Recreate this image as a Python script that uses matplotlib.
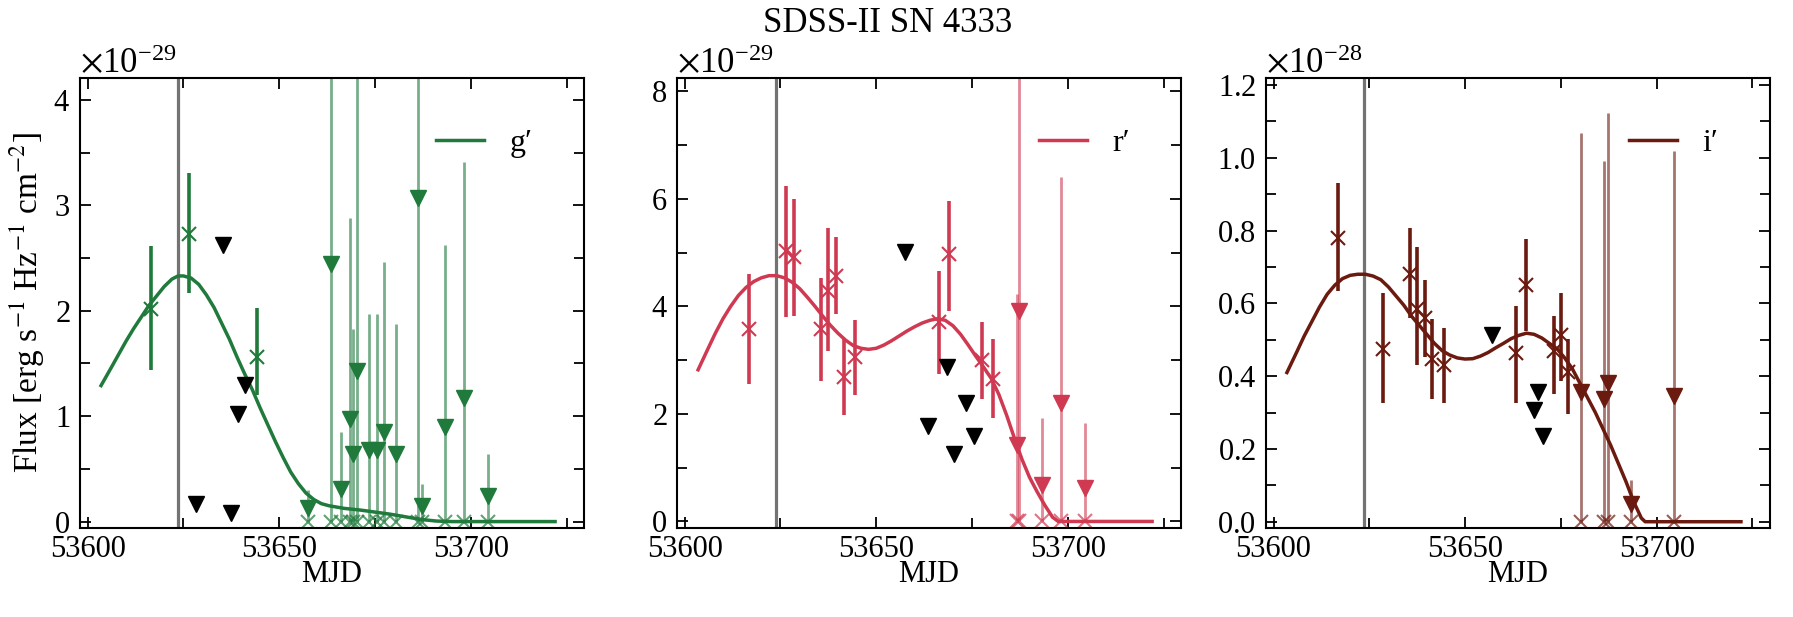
import matplotlib
matplotlib.use("Agg")
import matplotlib.pyplot as plt
import numpy as np
from matplotlib.ticker import MultipleLocator, ScalarFormatter

plt.rcParams['font.family'] = ['Liberation Serif', 'DejaVu Serif']
plt.rcParams['mathtext.fontset'] = 'stix'
plt.rcParams['font.size'] = 22

T_PEAK = 53623.7

# ---------------- g' band (units 1e-29) ----------------
g_curve_mjd = [53603.5, 53606, 53608, 53610, 53612, 53614, 53616, 53618, 53620, 53622,
               53623.6, 53625, 53627, 53629, 53631, 53633, 53635, 53637, 53639, 53641,
               53643, 53645, 53647, 53649, 53651, 53653, 53655, 53657, 53659, 53661,
               53663, 53667, 53671, 53675, 53679, 53683, 53687, 53691, 53695, 53722]
g_curve_flux = [1.29, 1.45, 1.58, 1.71, 1.83, 1.94, 2.05, 2.14, 2.23, 2.30,
                2.33, 2.33, 2.31, 2.25, 2.15, 2.03, 1.88, 1.73, 1.56, 1.40,
                1.25, 1.08, 0.92, 0.76, 0.61, 0.47, 0.36, 0.27, 0.21, 0.17,
                0.15, 0.125, 0.11, 0.09, 0.07, 0.045, 0.02, 0.005, 0.0, 0.0]
g_det_mjd = [53616.6, 53626.4, 53644.3]
g_det_flux = [2.02, 2.73, 1.56]
g_det_lo = [1.44, 2.17, 1.20]
g_det_hi = [2.61, 3.31, 2.03]
g_ul_mjd = [53657.5, 53663.6, 53666.2, 53668.4, 53669.3, 53670.4, 53673.5, 53675.4,
            53677.4, 53680.4, 53686.1, 53687.3, 53693.2, 53698.2, 53704.4]
g_ul_lim = [0.13, 2.44, 0.31, 0.97, 0.64, 1.43, 0.68, 0.68, 0.85, 0.64, 3.07, 0.15, 0.90, 1.17, 0.24]
g_ul_top = [0.30, 6.0, 0.85, 2.88, 1.83, 6.0, 1.97, 1.97, 2.46, 1.87, 6.0, 0.36, 2.62, 3.41, 0.64]
g_black_mjd = [53628.4, 53635.4, 53637.3, 53639.3, 53641.0]
g_black_flux = [0.17, 2.62, 0.08, 1.02, 1.30]

# ---------------- r' band (units 1e-29) ----------------
r_curve_mjd = [53603.5, 53606, 53608, 53610, 53612, 53614, 53616, 53618, 53620, 53622,
               53624, 53626, 53628, 53630, 53632, 53634, 53636, 53638, 53640, 53642,
               53644, 53646, 53648, 53650, 53652, 53654, 53656, 53658, 53660, 53662,
               53664, 53666, 53668, 53670, 53672, 53674, 53676, 53678, 53680, 53682,
               53684, 53686, 53688, 53690, 53692, 53694, 53696, 53697.5, 53722]
r_curve_flux = [2.82, 3.20, 3.50, 3.77, 4.00, 4.20, 4.35, 4.46, 4.53, 4.57,
                4.57, 4.53, 4.45, 4.33, 4.17, 4.00, 3.82, 3.65, 3.50, 3.37,
                3.27, 3.22, 3.20, 3.22, 3.28, 3.36, 3.45, 3.54, 3.62, 3.69,
                3.74, 3.77, 3.74, 3.64, 3.48, 3.28, 3.07, 2.87, 2.66, 2.36,
                1.98, 1.56, 1.16, 0.82, 0.55, 0.30, 0.08, 0.0, 0.0]
r_det_mjd = [53616.8, 53626.5, 53628.5, 53635.5, 53637.5, 53639.5, 53641.7, 53644.5,
             53666.5, 53669.1, 53677.6, 53680.5]
r_det_flux = [3.58, 5.03, 4.91, 3.58, 4.29, 4.57, 2.69, 3.06, 3.70, 4.97, 3.00, 2.65]
r_det_lo = [2.55, 3.80, 3.82, 2.62, 3.17, 3.85, 1.97, 2.35, 2.75, 3.91, 2.27, 1.93]
r_det_hi = [4.60, 6.24, 6.00, 4.53, 5.46, 5.29, 3.41, 3.75, 4.66, 5.95, 3.70, 3.40]
r_ul_mjd = [53686.8, 53687.3, 53693.2, 53698.2, 53704.4]
r_ul_lim = [1.42, 3.91, 0.67, 2.20, 0.63]
r_ul_top = [4.22, 10.0, 1.93, 6.40, 1.83]
r_black_mjd = [53657.5, 53663.6, 53668.4, 53670.4, 53673.5, 53675.4]
r_black_flux = [5.01, 1.77, 2.88, 1.25, 2.20, 1.59]

# ---------------- i' band (units 1e-28) ----------------
i_curve_mjd = [53603.5, 53606, 53608, 53610, 53612, 53614, 53616, 53618, 53620, 53622,
               53624, 53626, 53628, 53630, 53632, 53634, 53636, 53638, 53640, 53642,
               53644, 53646, 53648, 53650, 53652, 53654, 53656, 53658, 53660, 53662,
               53664, 53666, 53668, 53670, 53672, 53674, 53676, 53678, 53680, 53682,
               53684, 53686, 53688, 53690, 53692, 53694, 53696, 53697, 53722]
i_curve_flux = [0.41, 0.465, 0.51, 0.55, 0.59, 0.625, 0.65, 0.668, 0.677, 0.68,
                0.68, 0.675, 0.665, 0.645, 0.62, 0.595, 0.565, 0.54, 0.515, 0.49,
                0.47, 0.458, 0.45, 0.447, 0.448, 0.455, 0.465, 0.478, 0.49, 0.503,
                0.512, 0.518, 0.515, 0.505, 0.49, 0.475, 0.45, 0.42, 0.38, 0.34,
                0.30, 0.255, 0.21, 0.16, 0.11, 0.055, 0.01, 0.0, 0.0]
i_det_mjd = [53616.7, 53628.5, 53635.5, 53637.5, 53639.6, 53641.4, 53644.6,
             53663.2, 53665.9, 53673.2, 53675.0, 53676.9]
i_det_flux = [0.781, 0.475, 0.680, 0.584, 0.559, 0.447, 0.432, 0.463, 0.650, 0.468, 0.513, 0.412]
i_det_lo = [0.634, 0.326, 0.559, 0.432, 0.453, 0.336, 0.326, 0.326, 0.523, 0.352, 0.387, 0.296]
i_det_hi = [0.932, 0.629, 0.808, 0.756, 0.665, 0.556, 0.533, 0.594, 0.778, 0.566, 0.629, 0.503]
i_ul_mjd = [53680.3, 53686.3, 53687.4, 53693.4, 53704.4]
i_ul_lim = [0.357, 0.336, 0.382, 0.048, 0.346]
i_ul_top = [1.067, 0.99, 1.124, 0.114, 1.018]
i_black_mjd = [53657.0, 53668.1, 53669.1, 53670.3]
i_black_flux = [0.513, 0.306, 0.357, 0.235]

bands = [
    dict(label="g\u2032", color='#1f7a3c', scale=1e-29, ylim=(-0.06, 4.21), major=1, minor=0.5,
         cm=g_curve_mjd, cf=g_curve_flux, dm=g_det_mjd, df=g_det_flux, dlo=g_det_lo, dhi=g_det_hi,
         um=g_ul_mjd, ul=g_ul_lim, ut=g_ul_top, bm=g_black_mjd, bf=g_black_flux),
    dict(label="r\u2032", color='#cf3a52', scale=1e-29, ylim=(-0.12, 8.25), major=2, minor=1,
         cm=r_curve_mjd, cf=r_curve_flux, dm=r_det_mjd, df=r_det_flux, dlo=r_det_lo, dhi=r_det_hi,
         um=r_ul_mjd, ul=r_ul_lim, ut=r_ul_top, bm=r_black_mjd, bf=r_black_flux),
    dict(label="i\u2032", color='#6b1a10', scale=1e-28, ylim=(-0.017, 1.22), major=0.2, minor=0.1,
         cm=i_curve_mjd, cf=i_curve_flux, dm=i_det_mjd, df=i_det_flux, dlo=i_det_lo, dhi=i_det_hi,
         um=i_ul_mjd, ul=i_ul_lim, ut=i_ul_top, bm=i_black_mjd, bf=i_black_flux),
]

fig = plt.figure(figsize=(17.93, 6.17), dpi=100)
lefts = [0.0446, 0.3776, 0.706]
width = 0.281
bottom = 0.1444
height = 0.874 - 0.1444

for k, b in enumerate(bands):
    ax = fig.add_axes([lefts[k], bottom, width, height])
    s = b['scale']
    c = b['color']
    ax.axvline(T_PEAK, color='0.45', lw=2.3, zorder=1)
    ax.plot(b['cm'], np.array(b['cf']) * s, color=c, lw=2.5, label=b['label'], zorder=3)
    df = np.array(b['df'])
    ax.errorbar(b['dm'], df * s,
                yerr=[(df - np.array(b['dlo'])) * s, (np.array(b['dhi']) - df) * s],
                fmt='x', color=c, ms=10, mew=1.5, elinewidth=2.6, capsize=0, zorder=4)
    um = np.array(b['um'])
    ax.vlines(um, 0, np.array(b['ut']) * s, color=c, lw=2.0, alpha=0.6, zorder=2)
    ax.plot(um, np.zeros_like(um), 'x', color=c, alpha=0.7, ms=10, mew=1.5, zorder=2)
    ax.plot(um, np.array(b['ul']) * s, 'v', color=c, ms=12, zorder=5, lw=0)
    ax.plot(b['bm'], np.array(b['bf']) * s, 'v', color='k', ms=11, zorder=5, lw=0)

    ax.set_xlim(53598, 53729.5)
    ax.set_ylim(b['ylim'][0] * s, b['ylim'][1] * s)
    ax.xaxis.set_major_locator(MultipleLocator(50))
    ax.xaxis.set_minor_locator(MultipleLocator(25))
    ax.yaxis.set_major_locator(MultipleLocator(b['major'] * s))
    ax.yaxis.set_minor_locator(MultipleLocator(b['minor'] * s))
    fmt = ScalarFormatter(useMathText=True)
    fmt.set_powerlimits((0, 0))
    ax.yaxis.set_major_formatter(fmt)
    ax.yaxis.get_offset_text().set_fontsize(25)
    ax.tick_params(which='both', direction='in', top=True, right=True, labelsize=22, width=1.3)
    ax.tick_params(which='major', length=8)
    ax.tick_params(which='minor', length=7)
    ax.tick_params(axis='x', pad=5)
    ax.tick_params(axis='y', pad=7)
    for sp in ax.spines.values():
        sp.set_linewidth(1.5)
    ax.set_xlabel('MJD', fontsize=22, labelpad=-3)
    if k == 0:
        ax.set_ylabel('Flux [erg s$^{-1}$ Hz$^{-1}$ cm$^{-2}$]', fontsize=24, labelpad=5)
    ax.legend(loc='upper right', frameon=False, handlelength=1.5, fontsize=23,
              borderaxespad=1.2)

fig.text(0.495, 0.962, 'SDSS-II SN 4333', ha='center', va='center', fontsize=25)
fig.savefig('out.png', dpi=100)
